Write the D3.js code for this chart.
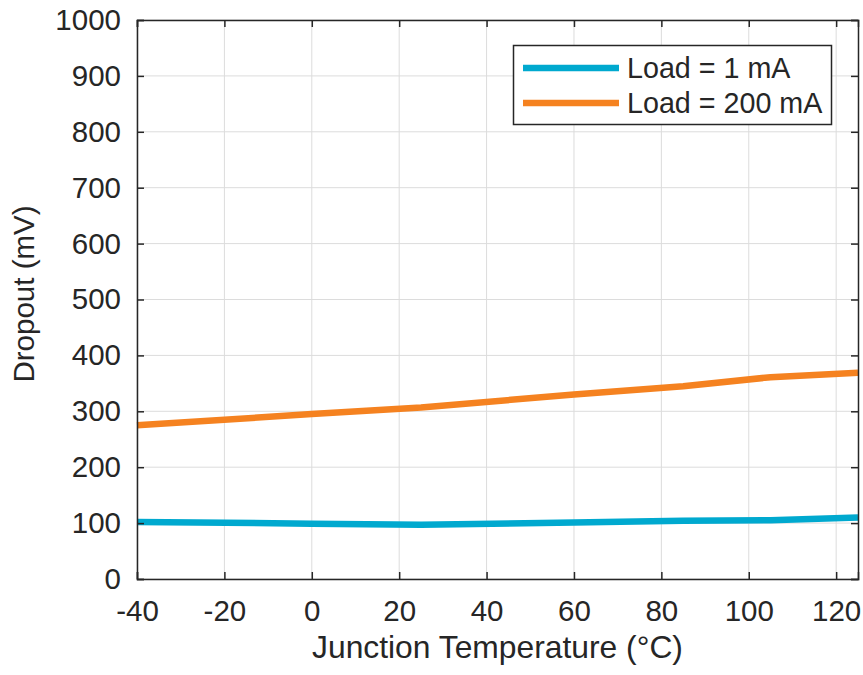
<!DOCTYPE html>
<html><head><meta charset="utf-8">
<script src="https://cdn.jsdelivr.net/npm/d3@7"></script>
<style>body{margin:0;background:#fff}svg{display:block}text{font-family:Arial,"Liberation Sans",Helvetica,sans-serif;fill:#262626}</style>
</head><body>
<script>
const temps = [-40, 0, 25, 60, 85, 105, 125];
const load1mA = [102, 99, 97, 101, 104, 105, 110];
const load200mA = [275, 295, 307, 330, 345, 361, 369];
const seriesNames = ["Load = 1 mA", "Load = 200 mA"];
const seriesColors = ["#00a9cf", "#f58220"];
const xTicks = [-40, -20, 0, 20, 40, 60, 80, 100, 120];
const yTicks = [0, 100, 200, 300, 400, 500, 600, 700, 800, 900, 1000];

const W = 863, H = 675;
const m = {l:137, r:858, t:20, b:579};
const svg = d3.select("body").append("svg").attr("width", W).attr("height", H);
const x = d3.scaleLinear().domain([-40,125]).range([m.l, m.r]);
const y = d3.scaleLinear().domain([0,1000]).range([m.b, m.t]);

// grid
const g = svg.append("g");
g.selectAll(".gx").data(xTicks).enter().append("line")
  .attr("x1", d=>x(d)).attr("x2", d=>x(d)).attr("y1", m.t).attr("y2", m.b)
  .attr("stroke", "#dcdcdc").attr("stroke-width", 1);
g.selectAll(".gy").data(yTicks).enter().append("line")
  .attr("y1", d=>y(d)).attr("y2", d=>y(d)).attr("x1", m.l).attr("x2", m.r)
  .attr("stroke", "#dcdcdc").attr("stroke-width", 1);

// lines
const line = d3.line().x((d,i)=>x(temps[i])).y(d=>y(d));
[load1mA, load200mA].forEach((s, k) => {
  svg.append("path").datum(s).attr("d", line).attr("fill","none")
    .attr("stroke", seriesColors[k]).attr("stroke-width", 6.5);
});

// axes
const axC = "#262626";
const fs = 29.5;
const fmt = d => String(d);
const bx = svg.append("g").attr("transform", `translate(0,${m.b})`)
  .call(d3.axisBottom(x).tickValues(xTicks).tickSize(-7).tickPadding(21).tickFormat(fmt));
const tx = svg.append("g").attr("transform", `translate(0,${m.t})`)
  .call(d3.axisTop(x).tickValues(xTicks).tickSize(-7).tickFormat(""));
const ly = svg.append("g").attr("transform", `translate(${m.l},0)`)
  .call(d3.axisLeft(y).tickValues(yTicks).tickSize(-7).tickPadding(16).tickFormat(fmt));
const ry = svg.append("g").attr("transform", `translate(${m.r},0)`)
  .call(d3.axisRight(y).tickValues(yTicks).tickSize(-7).tickFormat(""));
[bx, tx, ly, ry].forEach(a => {
  a.select(".domain").attr("stroke", axC).attr("stroke-width", 1.5);
  a.selectAll(".tick line").attr("stroke", axC).attr("stroke-width", 1.5);
  a.selectAll("text").attr("font-size", fs).attr("fill", axC).attr("font-family", "Arial, 'Liberation Sans', sans-serif");
});
bx.selectAll("text").attr("dy", "0.71em");

// axis labels
svg.append("text").attr("x", (m.l+m.r)/2).attr("y", 658).attr("text-anchor","middle")
  .attr("font-size", 31.8).text("Junction Temperature (°C)");
svg.append("text").attr("transform", `translate(34,294) rotate(-90)`)
  .attr("text-anchor","middle").attr("font-size", 29.5).text("Dropout (mV)");

// legend
const lg = svg.append("g");
lg.append("rect").attr("x", 513.5).attr("y", 45.5).attr("width", 318).attr("height", 79)
  .attr("fill", "#fff").attr("stroke", axC).attr("stroke-width", 1.5);
seriesNames.forEach((n, k) => {
  const yy = 68 + k*35;
  lg.append("line").attr("x1", 523).attr("x2", 619).attr("y1", yy).attr("y2", yy)
    .attr("stroke", seriesColors[k]).attr("stroke-width", 6.5);
  lg.append("text").attr("x", 627).attr("y", yy).attr("dy", "0.35em")
    .attr("font-size", 28.7).attr("fill", "#000").text(n);
});
</script>
</body></html>
